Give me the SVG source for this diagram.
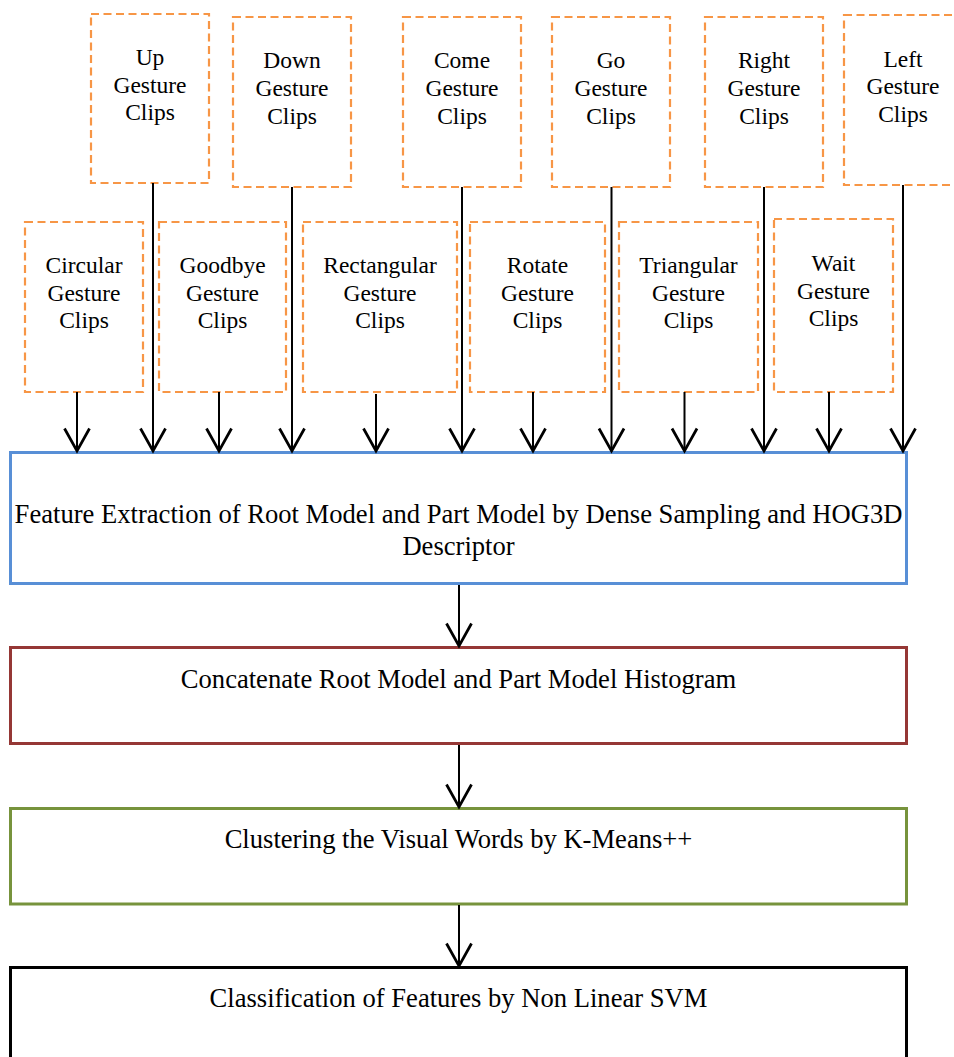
<svg xmlns="http://www.w3.org/2000/svg" width="954" height="1057" viewBox="0 0 954 1057">
  <style>
    .clip { fill: #ffffff; stroke: #f79646; stroke-width: 2.2; stroke-dasharray: 8 4.5; }
    .stage { fill: #ffffff; stroke-width: 3; }
    .lbl { font-family: "Liberation Serif", "Times New Roman", serif; font-size: 23.5px; fill: #000000; text-anchor: middle; }
    .big { font-family: "Liberation Serif", "Times New Roman", serif; font-size: 26.6px; fill: #000000; text-anchor: middle; }
    .wire { stroke: #000000; stroke-width: 2; fill: none; marker-end: url(#vhead); }
  </style>
  <defs>
    <marker id="vhead" markerUnits="userSpaceOnUse" markerWidth="30" markerHeight="30" viewBox="-20 -12 22 24" refX="0" refY="0" orient="auto" overflow="visible">
      <path d="M -18 -10 L 0 0 L -18 10" fill="none" stroke="#000000" stroke-width="2.2"/>
    </marker>
  </defs>
  <rect width="954" height="1057" fill="#ffffff"/>

  <!-- upper row of gesture clip sources -->
  <g id="up-clips">
    <rect class="clip" x="91" y="14" width="118" height="169"/>
    <text class="lbl" x="150" y="65">Up</text>
    <text class="lbl" x="150" y="92.5">Gesture</text>
    <text class="lbl" x="150" y="120">Clips</text>
  </g>
  <g id="down-clips">
    <rect class="clip" x="233" y="17" width="118" height="170"/>
    <text class="lbl" x="292" y="68">Down</text>
    <text class="lbl" x="292" y="96">Gesture</text>
    <text class="lbl" x="292" y="123.5">Clips</text>
  </g>
  <g id="come-clips">
    <rect class="clip" x="403" y="17" width="118" height="170"/>
    <text class="lbl" x="462" y="68">Come</text>
    <text class="lbl" x="462" y="96">Gesture</text>
    <text class="lbl" x="462" y="123.5">Clips</text>
  </g>
  <g id="go-clips">
    <rect class="clip" x="552" y="17" width="118" height="170"/>
    <text class="lbl" x="611" y="68">Go</text>
    <text class="lbl" x="611" y="96">Gesture</text>
    <text class="lbl" x="611" y="123.5">Clips</text>
  </g>
  <g id="right-clips">
    <rect class="clip" x="705" y="17" width="118" height="170"/>
    <text class="lbl" x="764" y="68">Right</text>
    <text class="lbl" x="764" y="96">Gesture</text>
    <text class="lbl" x="764" y="123.5">Clips</text>
  </g>
  <g id="left-clips">
    <rect class="clip" x="844" y="15" width="118" height="170"/>
    <text class="lbl" x="903" y="66.5">Left</text>
    <text class="lbl" x="903" y="94">Gesture</text>
    <text class="lbl" x="903" y="121.5">Clips</text>
  </g>

  <!-- lower row of gesture clip sources -->
  <g id="circular-clips">
    <rect class="clip" x="25" y="222" width="118" height="170"/>
    <text class="lbl" x="84" y="273">Circular</text>
    <text class="lbl" x="84" y="300.5">Gesture</text>
    <text class="lbl" x="84" y="328">Clips</text>
  </g>
  <g id="goodbye-clips">
    <rect class="clip" x="159" y="222" width="127" height="170"/>
    <text class="lbl" x="222.5" y="273">Goodbye</text>
    <text class="lbl" x="222.5" y="300.5">Gesture</text>
    <text class="lbl" x="222.5" y="328">Clips</text>
  </g>
  <g id="rectangular-clips">
    <rect class="clip" x="303" y="222" width="154" height="170"/>
    <text class="lbl" x="380" y="273">Rectangular</text>
    <text class="lbl" x="380" y="300.5">Gesture</text>
    <text class="lbl" x="380" y="328">Clips</text>
  </g>
  <g id="rotate-clips">
    <rect class="clip" x="470" y="222" width="135" height="170"/>
    <text class="lbl" x="537.5" y="273">Rotate</text>
    <text class="lbl" x="537.5" y="300.5">Gesture</text>
    <text class="lbl" x="537.5" y="328">Clips</text>
  </g>
  <g id="triangular-clips">
    <rect class="clip" x="619" y="222" width="139" height="170"/>
    <text class="lbl" x="688.5" y="273">Triangular</text>
    <text class="lbl" x="688.5" y="300.5">Gesture</text>
    <text class="lbl" x="688.5" y="328">Clips</text>
  </g>
  <g id="wait-clips">
    <rect class="clip" x="774" y="219" width="119" height="173"/>
    <text class="lbl" x="833.5" y="271">Wait</text>
    <text class="lbl" x="833.5" y="298.5">Gesture</text>
    <text class="lbl" x="833.5" y="326">Clips</text>
  </g>

  <!-- processing pipeline -->
  <g id="feature-extraction">
    <rect class="stage" x="10.5" y="452.5" width="896" height="131" stroke="#588fd6"/>
    <text class="big" x="458.5" y="523">Feature Extraction of Root Model and Part Model by Dense Sampling and HOG3D</text>
    <text class="big" x="458.5" y="555">Descriptor</text>
  </g>
  <g id="concatenate">
    <rect class="stage" x="10.5" y="647.5" width="896" height="96" stroke="#953735"/>
    <text class="big" x="458.5" y="688">Concatenate Root Model and Part Model Histogram</text>
  </g>
  <g id="clustering">
    <rect class="stage" x="10.5" y="808.5" width="896" height="95.5" stroke="#77933c"/>
    <text class="big" x="458.5" y="848">Clustering the Visual Words by K-Means++</text>
  </g>
  <g id="classification">
    <rect class="stage" x="10.5" y="967.5" width="896" height="100" stroke="#000000" stroke-width="4"/>
    <text class="big" x="458.5" y="1007">Classification of Features by Non Linear SVM</text>
  </g>

  <!-- connectors -->
  <g id="connectors">
    <line class="wire" x1="153" y1="183" x2="153" y2="451"/>
    <line class="wire" x1="292" y1="187" x2="292" y2="451"/>
    <line class="wire" x1="462" y1="187" x2="462" y2="451"/>
    <line class="wire" x1="611.5" y1="187" x2="611.5" y2="451"/>
    <line class="wire" x1="764" y1="187" x2="764" y2="451"/>
    <line class="wire" x1="903" y1="185" x2="903" y2="451"/>
    <line class="wire" x1="77" y1="392" x2="77" y2="451"/>
    <line class="wire" x1="219" y1="392" x2="219" y2="451"/>
    <line class="wire" x1="376" y1="394" x2="376" y2="451"/>
    <line class="wire" x1="533" y1="392" x2="533" y2="451"/>
    <line class="wire" x1="684.5" y1="392" x2="684.5" y2="451"/>
    <line class="wire" x1="829" y1="392" x2="829" y2="451"/>
    <line class="wire" x1="459" y1="585" x2="459" y2="646"/>
    <line class="wire" x1="459" y1="745" x2="459" y2="807"/>
    <line class="wire" x1="459" y1="905" x2="459" y2="966"/>
  </g>
</svg>
